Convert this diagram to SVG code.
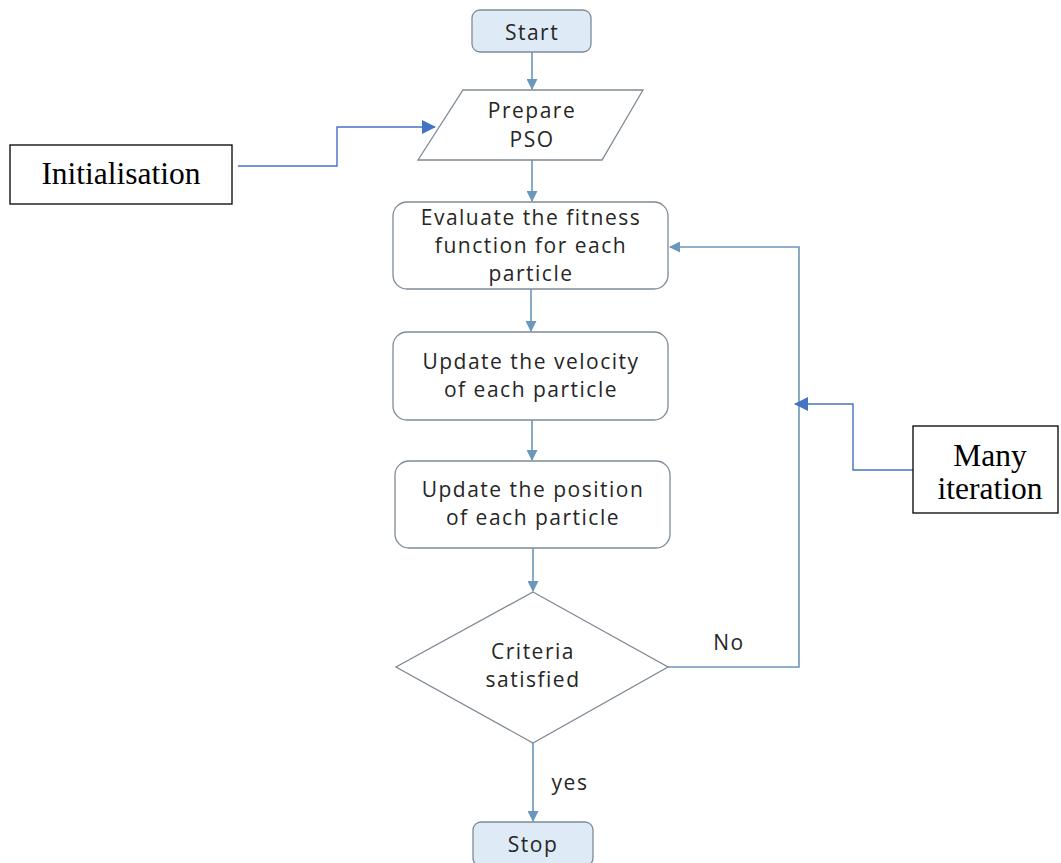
<svg xmlns="http://www.w3.org/2000/svg" width="1061" height="863" viewBox="0 0 1061 863">
<style>
.box{fill:#ffffff;stroke:#7f8a96;stroke-width:1.3}
.term{fill:#deebf7;stroke:#7f8a96;stroke-width:1.3}
.t{font-family:"Open Sans","Noto Sans",sans-serif;font-size:21px;letter-spacing:1.5px;fill:#262626;text-anchor:middle}
.s{font-family:"Liberation Serif","DejaVu Serif",serif;font-size:31.5px;fill:#000;text-anchor:middle}
.lbl{fill:#fff;stroke:#000;stroke-width:1.3}
.c{fill:none;stroke:#6b96bd;stroke-width:1.6}
.b{fill:none;stroke:#4472c4;stroke-width:1.4}
</style>
<defs>
<marker id="ah" markerWidth="11" markerHeight="11" refX="10" refY="5.5" orient="auto" markerUnits="userSpaceOnUse">
<path d="M0,0 L11,5.5 L0,11 Z" fill="#6b96bd"/>
</marker>
<marker id="bh" markerWidth="14" markerHeight="14" refX="13" refY="7" orient="auto" markerUnits="userSpaceOnUse">
<path d="M0,0 L14,7 L0,14 Z" fill="#4472c4"/>
</marker>
</defs>
<rect width="1061" height="863" fill="#ffffff"/>
<g id="connectors">
<line class="c" x1="532" y1="52" x2="532" y2="89" marker-end="url(#ah)"/>
<line class="c" x1="532" y1="160" x2="532" y2="201" marker-end="url(#ah)"/>
<line class="c" x1="531" y1="289" x2="531" y2="331" marker-end="url(#ah)"/>
<line class="c" x1="532" y1="420" x2="532" y2="460" marker-end="url(#ah)"/>
<line class="c" x1="533" y1="548" x2="533" y2="591" marker-end="url(#ah)"/>
<line class="c" x1="533" y1="743" x2="533" y2="821" marker-end="url(#ah)"/>
<polyline class="c" points="668,667 799,667 799,247 670,247" marker-end="url(#ah)"/>
<polyline class="b" points="238,166 337,166 337,127 435,127" marker-end="url(#bh)"/>
<polyline class="b" points="913,470 853,470 853,404 795,404" marker-end="url(#bh)"/>
<text class="t" x="729" y="650">No</text>
<text class="t" x="570" y="790">yes</text>
</g>
<g id="start">
<rect class="term" x="472" y="10" width="119" height="42" rx="8"/>
<text class="t" x="532" y="40">Start</text>
</g>
<g id="prepare">
<polygon class="box" points="463,90 643,90 602,160 418,160"/>
<text class="t" x="532" y="118">Prepare</text>
<text class="t" x="532" y="147">PSO</text>
</g>
<g id="evaluate">
<rect class="box" x="393" y="202" width="275" height="87" rx="14"/>
<text class="t" x="531" y="225">Evaluate the fitness</text>
<text class="t" x="531" y="253">function  for each</text>
<text class="t" x="531" y="281">particle</text>
</g>
<g id="velocity">
<rect class="box" x="393" y="332" width="275" height="88" rx="14"/>
<text class="t" x="531" y="369">Update the velocity</text>
<text class="t" x="531" y="397">of each particle</text>
</g>
<g id="position">
<rect class="box" x="395" y="461" width="275" height="87" rx="14"/>
<text class="t" x="533" y="497">Update the position</text>
<text class="t" x="533" y="525">of each particle</text>
</g>
<g id="criteria">
<polygon class="box" points="533,592 668,667 533,743 396,667"/>
<text class="t" x="533" y="659">Criteria</text>
<text class="t" x="533" y="687">satisfied</text>
</g>
<g id="stop">
<rect class="term" x="473" y="822" width="120" height="44" rx="8"/>
<text class="t" x="533" y="852">Stop</text>
</g>
<g id="initialisation">
<rect class="lbl" x="10" y="145" width="222" height="59"/>
<text class="s" x="121" y="184">Initialisation</text>
</g>
<g id="many-iteration">
<rect class="lbl" x="913" y="426" width="145" height="87"/>
<text class="s" x="990" y="466">Many</text>
<text class="s" x="990" y="499">iteration</text>
</g>
</svg>
